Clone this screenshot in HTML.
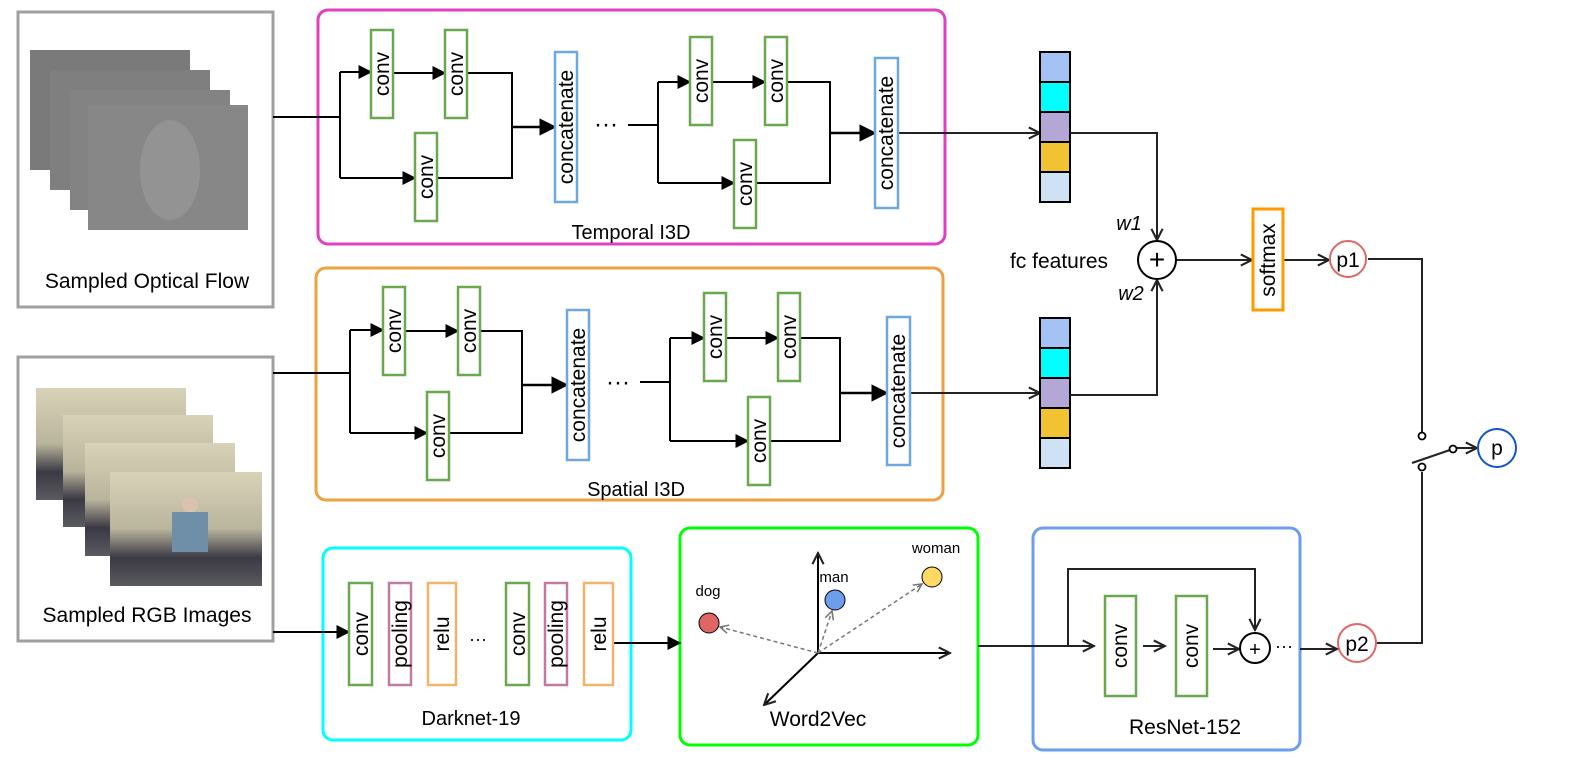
<!DOCTYPE html>
<html><head><meta charset="utf-8"><style>
html,body{margin:0;padding:0;background:#fff;}
svg{display:block;font-family:"Liberation Sans",Arial,sans-serif;}
</style></head><body>
<svg width="1583" height="777" viewBox="0 0 1583 777" xmlns="http://www.w3.org/2000/svg">
<defs>
<marker id="a" viewBox="0 0 10 10" refX="9" refY="5" markerWidth="7" markerHeight="7" orient="auto"><path d="M0,0 L10,5 L0,10 z" fill="#000"/></marker>
<marker id="o" viewBox="0 0 10 10" refX="9" refY="5" markerWidth="7" markerHeight="7" orient="auto"><path d="M1,1 L9,5 L1,9" fill="none" stroke="#222" stroke-width="1.5"/></marker>
<marker id="d" viewBox="0 0 10 10" refX="9" refY="5" markerWidth="7" markerHeight="7" orient="auto"><path d="M1,1 L9,5 L1,9" fill="none" stroke="#777" stroke-width="1.5"/></marker>
<linearGradient id="rgb" x1="0" y1="0" x2="0" y2="1"><stop offset="0" stop-color="#d8d3b8"/><stop offset="0.5" stop-color="#b9b49c"/><stop offset="0.75" stop-color="#3b3a44"/><stop offset="1" stop-color="#5a5a60"/></linearGradient>
</defs>
<g fill="none" stroke-width="2">
<rect x="18" y="12" width="255" height="295" stroke="#a0a0a0" stroke-width="3"/>
<rect x="18" y="357" width="255" height="284" stroke="#a0a0a0" stroke-width="3"/>
</g>
<rect x="30" y="50" width="160" height="120" fill="#7a7a7a"/>
<rect x="50" y="70" width="160" height="120" fill="#7f7f7f"/>
<rect x="70" y="90" width="160" height="120" fill="#838383"/>
<rect x="88" y="105" width="160" height="125" fill="#878787"/>
<ellipse cx="170" cy="170" rx="30" ry="50" fill="#939393"/>
<rect x="36" y="388" width="150" height="112" fill="url(#rgb)"/>
<rect x="63" y="415" width="150" height="112" fill="url(#rgb)"/>
<rect x="85" y="443" width="150" height="113" fill="url(#rgb)"/>
<rect x="110" y="472" width="152" height="114" fill="url(#rgb)"/>
<circle cx="190" cy="505" r="8" fill="#d9c3b0"/>
<rect x="172" y="512" width="36" height="40" fill="#6f8fa8"/>
<text x="147" y="288" font-size="21" text-anchor="middle">Sampled Optical Flow</text>
<text x="147" y="622" font-size="21" text-anchor="middle">Sampled RGB Images</text>

<g fill="none" stroke-width="3">
<rect x="318" y="10" width="627" height="234" rx="10" stroke="#e040c0"/>
<rect x="316" y="268" width="627" height="232" rx="10" stroke="#f0a040"/>
<rect x="323" y="548" width="308" height="192" rx="10" stroke="#00ffff"/>
<rect x="680" y="528" width="298" height="217" rx="10" stroke="#00ff00"/>
<rect x="1033" y="528" width="267" height="222" rx="10" stroke="#6d9eeb"/>
</g>
<g font-size="20" text-anchor="middle">
<text x="631" y="239">Temporal I3D</text>
<text x="636" y="496">Spatial I3D</text>
<text x="471" y="725">Darknet-19</text>
<text x="818" y="726" font-size="21">Word2Vec</text>
<text x="1185" y="734" font-size="21">ResNet-152</text>
</g>

<g stroke="#000" stroke-width="2" fill="none">
<path d="M273,117 H340 M340,72 V178"/>
<path d="M340,72 H371" marker-end="url(#a)"/>
<path d="M392,73 H445" marker-end="url(#a)"/>
<path d="M340,178 H415" marker-end="url(#a)"/>
<path d="M467,73 H512 V178 H437"/>
<path d="M512,127 H555" marker-end="url(#a)" stroke-width="2.5"/>
<path d="M628,125 H658 M658,82 V183"/>
<path d="M658,82 H690" marker-end="url(#a)"/>
<path d="M712,82 H765" marker-end="url(#a)"/>
<path d="M658,183 H734" marker-end="url(#a)"/>
<path d="M787,82 H830 V183 H756"/>
<path d="M830,133 H875" marker-end="url(#a)" stroke-width="2.5"/>
<path d="M898,133 H1040" marker-end="url(#o)" stroke="#222"/>
</g>
<g stroke-width="2.5" fill="#fff">
<rect x="371" y="30" width="22" height="88" stroke="#6aa84f"/>
<rect x="445" y="30" width="22" height="88" stroke="#6aa84f"/>
<rect x="415" y="133" width="22" height="88" stroke="#6aa84f"/>
<rect x="555" y="52" width="22" height="150" stroke="#6fa8dc"/>
<rect x="690" y="37" width="22" height="88" stroke="#6aa84f"/>
<rect x="765" y="37" width="22" height="88" stroke="#6aa84f"/>
<rect x="734" y="140" width="22" height="88" stroke="#6aa84f"/>
<rect x="875" y="58" width="23" height="150" stroke="#6fa8dc"/>
</g>
<text x="606" y="132" font-size="24" text-anchor="middle">···</text>

<g stroke="#000" stroke-width="2" fill="none">
<path d="M273,373 H350 M350,330 V433"/>
<path d="M350,330 H383" marker-end="url(#a)"/>
<path d="M405,331 H458" marker-end="url(#a)"/>
<path d="M350,433 H427" marker-end="url(#a)"/>
<path d="M480,331 H522 V433 H449"/>
<path d="M522,385 H567" marker-end="url(#a)" stroke-width="2.5"/>
<path d="M640,382 H670 M670,338 V441"/>
<path d="M670,338 H704" marker-end="url(#a)"/>
<path d="M726,338 H778" marker-end="url(#a)"/>
<path d="M670,441 H748" marker-end="url(#a)"/>
<path d="M800,338 H840 V441 H770"/>
<path d="M840,393 H887" marker-end="url(#a)" stroke-width="2.5"/>
<path d="M910,393 H1040" marker-end="url(#o)" stroke="#222"/>
</g>
<g stroke-width="2.5" fill="#fff">
<rect x="383" y="287" width="22" height="88" stroke="#6aa84f"/>
<rect x="458" y="287" width="22" height="88" stroke="#6aa84f"/>
<rect x="427" y="392" width="22" height="88" stroke="#6aa84f"/>
<rect x="567" y="310" width="22" height="150" stroke="#6fa8dc"/>
<rect x="704" y="293" width="22" height="88" stroke="#6aa84f"/>
<rect x="778" y="293" width="22" height="88" stroke="#6aa84f"/>
<rect x="748" y="397" width="22" height="88" stroke="#6aa84f"/>
<rect x="887" y="317" width="23" height="148" stroke="#6fa8dc"/>
</g>
<text x="618" y="390" font-size="24" text-anchor="middle">···</text>

<g font-size="21" text-anchor="middle">
<text transform="translate(389,74) rotate(-90)">conv</text>
<text transform="translate(463,74) rotate(-90)">conv</text>
<text transform="translate(433,177) rotate(-90)">conv</text>
<text transform="translate(573,127) rotate(-90)">concatenate</text>
<text transform="translate(708,81) rotate(-90)">conv</text>
<text transform="translate(783,81) rotate(-90)">conv</text>
<text transform="translate(752,184) rotate(-90)">conv</text>
<text transform="translate(893,133) rotate(-90)">concatenate</text>
<text transform="translate(401,331) rotate(-90)">conv</text>
<text transform="translate(476,331) rotate(-90)">conv</text>
<text transform="translate(445,436) rotate(-90)">conv</text>
<text transform="translate(585,385) rotate(-90)">concatenate</text>
<text transform="translate(722,337) rotate(-90)">conv</text>
<text transform="translate(796,337) rotate(-90)">conv</text>
<text transform="translate(766,441) rotate(-90)">conv</text>
<text transform="translate(905,391) rotate(-90)">concatenate</text>
</g>

<g stroke="#000" stroke-width="2">
<rect x="1040" y="52" width="30" height="30" fill="#a4c2f4"/>
<rect x="1040" y="82" width="30" height="30" fill="#00ffff"/>
<rect x="1040" y="112" width="30" height="30" fill="#b4a7d6"/>
<rect x="1040" y="142" width="30" height="30" fill="#f1c232"/>
<rect x="1040" y="172" width="30" height="30" fill="#cfe2f3"/>
<rect x="1040" y="318" width="30" height="30" fill="#a4c2f4"/>
<rect x="1040" y="348" width="30" height="30" fill="#00ffff"/>
<rect x="1040" y="378" width="30" height="30" fill="#b4a7d6"/>
<rect x="1040" y="408" width="30" height="30" fill="#f1c232"/>
<rect x="1040" y="438" width="30" height="30" fill="#cfe2f3"/>
</g>
<g stroke="#222" stroke-width="2" fill="none">
<path d="M1070,133 H1157 V240" marker-end="url(#o)"/>
<path d="M1070,395 H1157 V280" marker-end="url(#o)"/>
<path d="M1176,260 H1252" marker-end="url(#o)"/>
<path d="M1283,260 H1329" marker-end="url(#o)"/>
<path d="M1368,259 H1422 V432"/>
<path d="M1377,643 H1422 V472"/>
<path d="M1412,463 L1450,450"/>
<path d="M1457,448 H1477" marker-end="url(#o)"/>
</g>
<circle cx="1157" cy="260" r="19" fill="#fff" stroke="#000" stroke-width="2"/>
<text x="1157" y="269" font-size="28" text-anchor="middle">+</text>
<text x="1129" y="230" font-size="20" font-style="italic" text-anchor="middle">w1</text>
<text x="1131" y="300" font-size="20" font-style="italic" text-anchor="middle">w2</text>
<text x="1059" y="268" font-size="21" text-anchor="middle">fc features</text>
<rect x="1253" y="209" width="30" height="101" fill="#fff" stroke="#ff9900" stroke-width="3"/>
<text transform="translate(1275,260) rotate(-90)" font-size="21" text-anchor="middle">softmax</text>
<circle cx="1348" cy="259" r="18" fill="#fff" stroke="#e06666" stroke-width="2"/>
<text x="1348" y="267" font-size="21" text-anchor="middle">p1</text>
<circle cx="1357" cy="643" r="19" fill="#fff" stroke="#e06666" stroke-width="2"/>
<text x="1357" y="651" font-size="21" text-anchor="middle">p2</text>
<circle cx="1497" cy="448" r="19" fill="#fff" stroke="#1155cc" stroke-width="2"/>
<text x="1497" y="455" font-size="21" text-anchor="middle">p</text>
<g fill="#fff" stroke="#000" stroke-width="1.8">
<circle cx="1422" cy="436" r="3.5"/>
<circle cx="1422" cy="467" r="3.5"/>
<circle cx="1453" cy="449" r="3.5"/>
</g>

<g stroke="#000" stroke-width="2" fill="none">
<path d="M273,632 H349" marker-end="url(#a)"/>
<path d="M613,643 H680" marker-end="url(#a)"/>
</g>
<g stroke-width="2.5" fill="#fff">
<rect x="349" y="583" width="23" height="102" stroke="#6aa84f"/>
<rect x="389" y="583" width="22" height="102" stroke="#c27ba0"/>
<rect x="428" y="583" width="28" height="102" stroke="#f6b26b"/>
<rect x="506" y="583" width="23" height="102" stroke="#6aa84f"/>
<rect x="545" y="583" width="22" height="102" stroke="#c27ba0"/>
<rect x="584" y="583" width="29" height="102" stroke="#f6b26b"/>
</g>
<g font-size="21" text-anchor="middle">
<text transform="translate(368,634) rotate(-90)">conv</text>
<text transform="translate(407,634) rotate(-90)">pooling</text>
<text transform="translate(449,634) rotate(-90)">relu</text>
<text transform="translate(525,634) rotate(-90)">conv</text>
<text transform="translate(563,634) rotate(-90)">pooling</text>
<text transform="translate(606,634) rotate(-90)">relu</text>
</g>
<text x="478" y="645" font-size="18" text-anchor="middle">···</text>

<g stroke="#000" stroke-width="2" fill="none">
<path d="M818,653 V553" marker-end="url(#o)"/>
<path d="M818,653 H950" marker-end="url(#o)"/>
<path d="M818,653 L764,705" marker-end="url(#o)"/>
</g>
<g stroke="#777" stroke-width="1.5" fill="none" stroke-dasharray="4,3">
<path d="M818,653 L720,627" marker-end="url(#d)"/>
<path d="M818,653 L832,611" marker-end="url(#d)"/>
<path d="M818,653 L922,584" marker-end="url(#d)"/>
</g>
<circle cx="709" cy="623" r="10" fill="#e06666" stroke="#000"/>
<circle cx="835" cy="600" r="10" fill="#6d9eeb" stroke="#000"/>
<circle cx="932" cy="577" r="10" fill="#ffd966" stroke="#000"/>
<g font-size="15" text-anchor="middle">
<text x="708" y="596">dog</text>
<text x="834" y="582">man</text>
<text x="936" y="553">woman</text>
</g>

<g stroke="#222" stroke-width="2" fill="none">
<path d="M978,646 H1094" marker-end="url(#o)"/>
<path d="M1068,646 V569 H1255 V630" marker-end="url(#o)"/>
<path d="M1143,646 H1165" marker-end="url(#o)"/>
<path d="M1213,649 H1239" marker-end="url(#o)"/>
<path d="M1300,649 H1337" marker-end="url(#o)"/>
</g>
<g stroke-width="2.5" fill="#fff">
<rect x="1105" y="596" width="31" height="100" stroke="#6aa84f"/>
<rect x="1176" y="596" width="31" height="100" stroke="#6aa84f"/>
</g>
<g font-size="21" text-anchor="middle">
<text transform="translate(1127,646) rotate(-90)">conv</text>
<text transform="translate(1198,646) rotate(-90)">conv</text>
</g>
<circle cx="1255" cy="648" r="15" fill="#fff" stroke="#000" stroke-width="2"/>
<text x="1255" y="656" font-size="20" text-anchor="middle">+</text>
<text x="1284" y="652" font-size="18" text-anchor="middle">···</text>
</svg>
</body></html>
